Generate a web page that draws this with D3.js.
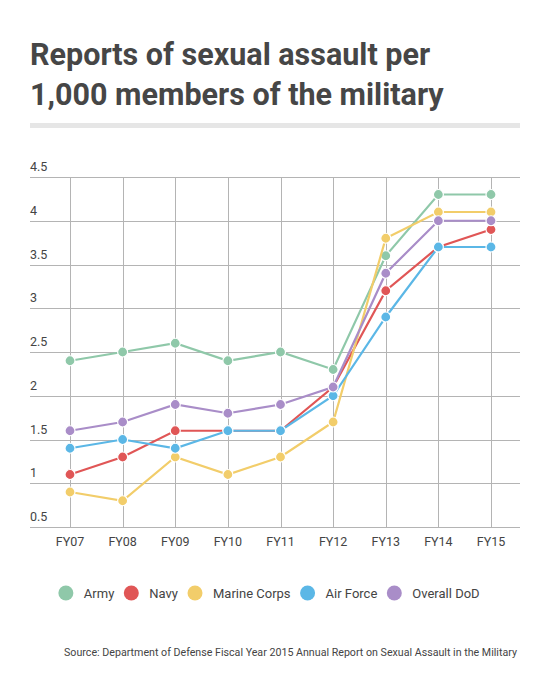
<!DOCTYPE html>
<html>
<head>
<meta charset="utf-8">
<script src="https://cdn.jsdelivr.net/npm/d3@7"></script>
<style>
  html, body { margin: 0; padding: 0; background: #fff; }
  svg { display: block; }
  text { font-family: Roboto, "Noto Sans", sans-serif; }
</style>
</head>
<body>
<svg id="chart" width="550" height="691"></svg>
<script>
const categories = ["FY07","FY08","FY09","FY10","FY11","FY12","FY13","FY14","FY15"];
const seriesNames = ["Army","Navy","Marine Corps","Air Force","Overall DoD"];
const seriesColors = ["#8fc8a9","#e05656","#f2cd6a","#5bb7e6","#a98dc8"];
const army    = [2.4, 2.5, 2.6, 2.4, 2.5, 2.3, 3.6, 4.3, 4.3];
const navy    = [1.1, 1.3, 1.6, 1.6, 1.6, 2.1, 3.2, 3.7, 3.9];
const marine  = [0.9, 0.8, 1.3, 1.1, 1.3, 1.7, 3.8, 4.1, 4.1];
const airforce= [1.4, 1.5, 1.4, 1.6, 1.6, 2.0, 2.9, 3.7, 3.7];
const overall = [1.6, 1.7, 1.9, 1.8, 1.9, 2.1, 3.4, 4.0, 4.0];
const yTicks = [0.5, 1, 1.5, 2, 2.5, 3, 3.5, 4, 4.5];
const yTickLabels = ["0.5","1","1.5","2","2.5","3","3.5","4","4.5"];
const titleLines = ["Reports of sexual assault per", "1,000 members of the military"];
const sourceText = "Source: Department of Defense Fiscal Year 2015 Annual Report on Sexual Assault in the Military";

const seriesValues = [army, navy, marine, airforce, overall];
const series = seriesNames.map((n, i) => ({name: n, color: seriesColors[i], values: seriesValues[i]}));

const svg = d3.select("#chart");

// Title
svg.append("g").selectAll("text").data(titleLines).join("text")
  .attr("x", 30).attr("y", (d, i) => 65 + i * 40)
  .attr("font-size", 30.5).attr("font-weight", 700).attr("fill", "#464646")
  .text(d => d);
svg.append("rect").attr("x", 30).attr("y", 123).attr("width", 490).attr("height", 5).attr("fill", "#e6e6e6");

// Scales
const x = d3.scalePoint().domain(categories).range([70, 491]);
const y = d3.scaleLinear().domain([0.5, 4.5]).range([527, 177]);
const gridLeft = 30, gridRight = 520;

// Horizontal grid
const gy = svg.append("g");
gy.selectAll("line").data(yTicks).join("line")
  .attr("x1", gridLeft).attr("x2", gridRight)
  .attr("y1", d => Math.round(y(d)) + 0.5).attr("y2", d => Math.round(y(d)) + 0.5)
  .attr("stroke", "#b4b4b4").attr("stroke-width", 1);
gy.selectAll("text").data(yTicks).join("text")
  .attr("x", 30).attr("y", d => y(d) - 6)
  .attr("font-size", 12.5).attr("fill", "#444")
  .text((d, i) => yTickLabels[i]);

// Vertical grid
const gx = svg.append("g");
gx.selectAll("line").data(categories).join("line")
  .attr("x1", d => Math.round(x(d)) + 0.5).attr("x2", d => Math.round(x(d)) + 0.5)
  .attr("y1", y(4.5)).attr("y2", y(0.5))
  .attr("stroke", "#b4b4b4").attr("stroke-width", 1);
gx.selectAll("text").data(categories).join("text")
  .attr("x", d => x(d)).attr("y", 546)
  .attr("text-anchor", "middle").attr("font-size", 12.5).attr("fill", "#444")
  .text(d => d);

// Lines & points
const line = d3.line().x((d, i) => x(categories[i])).y(d => y(d));
const gs = svg.append("g").selectAll("g").data(series).join("g");
gs.append("path")
  .attr("d", d => line(d.values))
  .attr("fill", "none").attr("stroke", d => d.color).attr("stroke-width", 2.2);
gs.selectAll("circle").data(d => d.values.map(v => ({v, c: d.color}))).join("circle")
  .attr("cx", (d, i) => x(categories[i])).attr("cy", d => y(d.v))
  .attr("r", 5).attr("fill", d => d.c).attr("stroke", "#fff").attr("stroke-width", 1.2);

// Legend
const lg = svg.append("g");
const legendY = 593;
const items = lg.selectAll("g").data(series).join("g");
items.append("circle").attr("r", 7.5).attr("fill", d => d.color);
items.append("text").attr("x", 18).attr("y", 4.6)
  .attr("font-size", 13).attr("fill", "#444").text(d => d.name);
let cx = 0;
const pos = [];
items.each(function(d) {
  const w = d3.select(this).select("text").node().getComputedTextLength();
  pos.push(cx);
  cx += 18 + w + 17;
});
const total = cx - 17 + 7.5;
const start = 269 - total / 2 + 7.5;
items.attr("transform", (d, i) => `translate(${start + pos[i]},${legendY})`);

// Source
svg.append("text").attr("x", 517).attr("y", 656)
  .attr("text-anchor", "end").attr("font-size", 11).attr("fill", "#444")
  .attr("textLength", 453).attr("lengthAdjust", "spacingAndGlyphs")
  .text(sourceText);
</script>
</body>
</html>
